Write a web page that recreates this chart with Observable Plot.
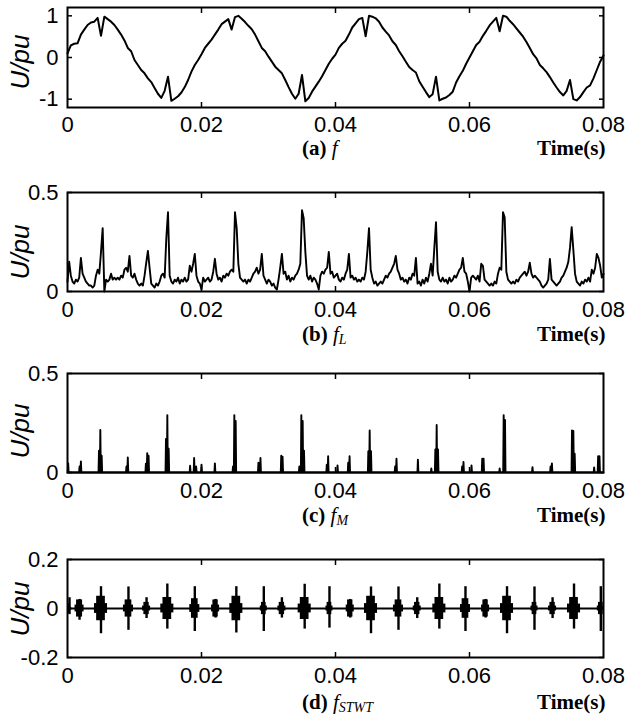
<!DOCTYPE html>
<html><head><meta charset="utf-8">
<script src="https://cdn.jsdelivr.net/npm/d3@7"></script>
<script src="https://cdn.jsdelivr.net/npm/@observablehq/plot@0.6"></script>
<style>
body{margin:0;background:#fff;}
#wrap{position:relative;width:627px;height:718px;overflow:hidden;background:#fff;}
.panel{position:absolute;left:0;}
.ylab{position:absolute;font:italic 26px "Liberation Sans",Arial,sans-serif;transform:translate(-50%,-50%) rotate(-90deg);white-space:nowrap;color:#000;}
.cap{position:absolute;font:bold 21px "Liberation Serif","Times New Roman",serif;line-height:18px;white-space:nowrap;color:#000;}
.cap i{font-weight:normal;}
.cap sub{font-size:14px;line-height:0;vertical-align:-0.2em;font-style:italic;font-weight:normal;}
</style></head>
<body><div id="wrap"></div>
<script>
// ---- tick labels ----
const xTickValues = [0, 0.02, 0.04, 0.06, 0.08];
const xInnerTicks = [0.02, 0.04, 0.06];
const yTicksA = [-1, 0, 1];
const yTicksB = [0, 0.5];
const yTicksC = [0, 0.5];
const yTicksD = [-0.2, 0, 0.2];
const captionLetters = ["(a)", "(b)", "(c)", "(d)"];
const captionSubs = ["", "L", "M", "STWT"];
const yLabel = "U/pu";
const xLabel = "Time(s)";

// ---- (a) f : sampled every 0.5 ms ----
const stepA = 0.0005;
const fA = [
 0.10, 0.29, 0.33, 0.34, 0.55, 0.67, 0.78, 0.84, 0.86, 0.95,
 0.52, 0.98, 0.92, 0.86, 0.78, 0.67, 0.55, 0.41, 0.23, 0.15,
 -0.06, -0.18, -0.30, -0.38, -0.50, -0.59, -0.73, -0.87, -0.97, -0.80,
 -0.46, -1.04, -0.99, -0.93, -0.84, -0.71, -0.54, -0.34, -0.18, -0.06,
 0.08, 0.23, 0.33, 0.43, 0.55, 0.67, 0.80, 0.86, 0.92, 0.67,
 0.97, 1.00, 0.93, 0.85, 0.76, 0.68, 0.55, 0.39, 0.23, 0.15,
 0.02, -0.10, -0.22, -0.30, -0.38, -0.54, -0.71, -0.87, -0.99, -0.87,
 -0.42, -1.05, -0.97, -0.82, -0.70, -0.58, -0.45, -0.30, -0.15, -0.03,
 0.07, 0.23, 0.33, 0.40, 0.55, 0.72, 0.82, 0.92, 0.95, 0.51,
 1.00, 0.98, 0.94, 0.86, 0.72, 0.62, 0.53, 0.39, 0.30, 0.15,
 0.03, -0.10, -0.23, -0.30, -0.36, -0.57, -0.70, -0.83, -0.95, -0.88,
 -0.46, -1.03, -0.99, -0.96, -0.90, -0.82, -0.60, -0.45, -0.32, -0.15,
 0.00, 0.15, 0.30, 0.38, 0.52, 0.64, 0.77, 0.86, 0.95, 0.63,
 1.00, 0.98, 0.88, 0.80, 0.70, 0.60, 0.50, 0.37, 0.23, 0.08,
 -0.02, -0.18, -0.26, -0.35, -0.47, -0.60, -0.72, -0.83, -0.91, -0.80,
 -0.54, -1.00, -1.03, -0.95, -0.83, -0.72, -0.67, -0.50, -0.30, -0.10, 0.05
];

// ---- (b) fL : sampled every 0.25 ms ----
const stepB = 0.00025;
const fL = [
 0.05, 0.15, 0.08, 0.05, 0.04, 0.06, 0.05, 0.07, 0.17, 0.09,
 0.07, 0.05, 0.04, 0.03, 0.03, 0.02, 0.03, 0.08, 0.11, 0.09,
 0.20, 0.32, 0.00, 0.06, 0.05, 0.06, 0.09, 0.06, 0.07, 0.06,
 0.07, 0.06, 0.08, 0.07, 0.11, 0.12, 0.10, 0.18, 0.08, 0.07,
 0.09, 0.06, 0.04, 0.03, 0.04, 0.03, 0.08, 0.145, 0.205, 0.12,
 0.04, 0.03, 0.02, 0.04, 0.03, 0.05, 0.08, 0.09, 0.07, 0.27,
 0.40, 0.08, 0.05, 0.04, 0.06, 0.05, 0.07, 0.04, 0.06, 0.05,
 0.07, 0.05, 0.06, 0.13, 0.10, 0.14, 0.19, 0.08, 0.05, 0.04,
 0.01, 0.07, 0.05, 0.06, 0.07, 0.05, 0.06, 0.10, 0.165, 0.09,
 0.06, 0.07, 0.05, 0.08, 0.07, 0.09, 0.08, 0.10, 0.11, 0.10,
 0.40, 0.32, 0.14, 0.07, 0.06, 0.05, 0.06, 0.04, 0.06, 0.05,
 0.07, 0.09, 0.10, 0.12, 0.09, 0.11, 0.19, 0.08, 0.06, 0.04,
 0.06, 0.05, 0.03, 0.04, 0.02, 0.01, 0.06, 0.12, 0.19, 0.09,
 0.10, 0.06, 0.08, 0.05, 0.07, 0.06, 0.08, 0.09, 0.11, 0.14,
 0.41, 0.37, 0.20, 0.08, 0.06, 0.08, 0.05, 0.07, 0.06, 0.04,
 0.01, 0.08, 0.10, 0.09, 0.11, 0.12, 0.20, 0.09, 0.10, 0.07,
 0.08, 0.09, 0.06, 0.05, 0.07, 0.06, 0.09, 0.11, 0.19, 0.07,
 0.08, 0.06, 0.07, 0.05, 0.06, 0.05, 0.07, 0.06, 0.10, 0.20,
 0.32, 0.11, 0.07, 0.04, 0.05, 0.03, 0.04, 0.05, 0.04, 0.06,
 0.08, 0.07, 0.09, 0.10, 0.12, 0.14, 0.18, 0.11, 0.09, 0.06,
 0.07, 0.05, 0.06, 0.04, 0.07, 0.06, 0.09, 0.08, 0.17, 0.04,
 0.05, 0.03, 0.06, 0.04, 0.07, 0.05, 0.09, 0.14, 0.08, 0.22,
 0.35, 0.10, 0.06, 0.05, 0.07, 0.05, 0.06, 0.04, 0.07, 0.05,
 0.06, 0.08, 0.07, 0.09, 0.11, 0.12, 0.17, 0.10, 0.09, 0.05,
 0.00, 0.07, 0.08, 0.07, 0.06, 0.08, 0.05, 0.14, 0.13, 0.06,
 0.05, 0.04, 0.03, 0.04, 0.03, 0.05, 0.04, 0.09, 0.12, 0.11,
 0.40, 0.375, 0.10, 0.06, 0.05, 0.04, 0.05, 0.04, 0.06, 0.05,
 0.07, 0.08, 0.09, 0.10, 0.08, 0.10, 0.145, 0.09, 0.07, 0.08,
 0.07, 0.06, 0.05, 0.03, 0.02, 0.03, 0.04, 0.06, 0.165, 0.06,
 0.05, 0.04, 0.03, 0.04, 0.05, 0.07, 0.08, 0.10, 0.12, 0.15,
 0.22, 0.325, 0.21, 0.09, 0.05, 0.04, 0.03, 0.05, 0.04, 0.06,
 0.05, 0.07, 0.05, 0.11, 0.09, 0.12, 0.19, 0.17, 0.13, 0.07, 0.09
];

// ---- (c) fM : isolated pulses (time, height) on a zero line ----
const fMTime = [0.0001, 0.0018, 0.0020, 0.0047, 0.0049, 0.0051, 0.0088, 0.0090, 0.0117, 0.0119,
 0.0121, 0.0147, 0.0149, 0.0151, 0.0183, 0.0189, 0.0192, 0.0200, 0.0220, 0.0247,
 0.0249, 0.0251, 0.0285, 0.0288, 0.0319, 0.0321, 0.0346, 0.0349, 0.0351, 0.0353,
 0.0387, 0.0389, 0.0403, 0.0419, 0.0421, 0.0449, 0.0451, 0.0453, 0.0489, 0.0491,
 0.0523, 0.0543, 0.0549, 0.0551, 0.0553, 0.0589, 0.0591, 0.0603, 0.0619, 0.0621,
 0.0645, 0.0651, 0.0653, 0.0694, 0.0721, 0.0723, 0.0753, 0.0755, 0.0757, 0.0786,
 0.0792, 0.0794];
const fMHeight = [0.046, 0.030, 0.056, 0.110, 0.215, 0.085, 0.030, 0.076, 0.045, 0.098,
 0.085, 0.170, 0.290, 0.120, 0.034, 0.073, 0.030, 0.040, 0.046, 0.030,
 0.290, 0.260, 0.050, 0.073, 0.085, 0.080, 0.030, 0.290, 0.260, 0.110,
 0.040, 0.082, 0.036, 0.050, 0.082, 0.107, 0.213, 0.107, 0.030, 0.070,
 0.065, 0.020, 0.116, 0.240, 0.116, 0.030, 0.053, 0.036, 0.070, 0.070,
 0.020, 0.290, 0.265, 0.027, 0.030, 0.046, 0.213, 0.210, 0.095, 0.026,
 0.082, 0.082];

// ---- (d) fSTWT : oscillation bursts ----
const burstTime = [0.0003, 0.0018, 0.0050, 0.0091, 0.0118, 0.0149, 0.0190, 0.0221, 0.0252, 0.0293,
 0.0320, 0.0354, 0.0391, 0.0422, 0.0453, 0.0494, 0.0522, 0.0555, 0.0594, 0.0624,
 0.0656, 0.0697, 0.0724, 0.0756, 0.0796];
const burstMax = [0.044, 0.037, 0.089, 0.088, 0.044, 0.100, 0.089, 0.037, 0.089, 0.089,
 0.044, 0.099, 0.089, 0.037, 0.088, 0.088, 0.044, 0.100, 0.089, 0.037,
 0.089, 0.088, 0.044, 0.100, 0.089];
const burstMin = [-0.025, -0.048, -0.103, -0.089, -0.041, -0.084, -0.094, -0.039, -0.100, -0.094,
 -0.039, -0.084, -0.080, -0.039, -0.103, -0.089, -0.041, -0.084, -0.094, -0.039,
 -0.103, -0.089, -0.041, -0.084, -0.094];
const burstCore = [0.020, 0.035, 0.050, 0.035, 0.025, 0.045, 0.040, 0.035, 0.050, 0.025,
 0.025, 0.045, 0.025, 0.035, 0.050, 0.035, 0.025, 0.045, 0.040, 0.035,
 0.050, 0.025, 0.025, 0.045, 0.025];
const burstDur = [0.0003, 0.0009, 0.0013, 0.0010, 0.0008, 0.0013, 0.0010, 0.0008, 0.0013, 0.0007,
 0.0008, 0.0013, 0.0007, 0.0008, 0.0013, 0.0010, 0.0008, 0.0013, 0.0010, 0.0008,
 0.0013, 0.0007, 0.0008, 0.0013, 0.0007];

// ---- build tables ----
const tableA = fA.map((v, i) => ({t: i * stepA, v}));
const tableB = fL.map((v, i) => ({t: i * stepB, v}));
const halfPulse = 0.00007;
const tableC = [{t: 0, v: 0}];
fMTime.forEach((t, i) => {
  tableC.push({t: Math.max(0, t - halfPulse), v: 0}, {t, v: fMHeight[i]}, {t: t + halfPulse, v: 0});
});
tableC.push({t: 0.08, v: 0});
const tableD = burstTime.map((t, i) => ({t, hi: burstMax[i], lo: burstMin[i], core: burstCore[i], dur: burstDur[i]}));

const fmt = d => String(d);
const FONT = '"Liberation Sans", Arial, sans-serif';
const wrap = document.getElementById("wrap");

function panel({top, frameH, yDomain, yTicks, marks, xPad = 10}) {
  const mt = 7, mb = 33;
  const svg = Plot.plot({
    width: 627, height: mt + frameH + mb,
    marginLeft: 67, marginRight: 24, marginTop: mt, marginBottom: mb,
    x: {domain: [0, 0.08]},
    y: {domain: yDomain},
    style: {fontFamily: FONT, background: "white", color: "black", overflow: "visible"},
    marks: [
      ...marks,
      Plot.frame({stroke: "black", strokeWidth: 2}),
      Plot.axisX(xTickValues, {anchor: "bottom", tickSize: 0, tickPadding: xPad, tickFormat: fmt, fontSize: 22, label: null}),
      Plot.axisX(xInnerTicks, {anchor: "bottom", tickSize: 5, dy: -5, fill: "none", label: null, strokeWidth: 1.5}),
      Plot.axisX(xInnerTicks, {anchor: "top", tickSize: 5, dy: 5, fill: "none", label: null, strokeWidth: 1.5}),
      Plot.axisY(yTicks, {anchor: "left", tickSize: 0, tickPadding: 9, tickFormat: fmt, fontSize: 22, label: null}),
      Plot.axisY(yTicks, {anchor: "left", tickSize: 5, dx: 5, fill: "none", label: null, strokeWidth: 1.5}),
      Plot.axisY(yTicks, {anchor: "right", tickSize: 5, dx: -5, fill: "none", label: null, strokeWidth: 1.5})
    ]
  });
  svg.classList.add("panel");
  svg.style.top = (top - mt) + "px";
  svg.style.position = "absolute";
  wrap.appendChild(svg);
}

panel({top: 7, frameH: 100, yDomain: [-1.2, 1.2], yTicks: yTicksA, xPad: 9,
  marks: [Plot.line(tableA, {x: "t", y: "v", stroke: "black", strokeWidth: 2})]});
panel({top: 192, frameH: 99, yDomain: [0, 0.5], yTicks: yTicksB,
  marks: [Plot.line(tableB, {x: "t", y: "v", stroke: "black", strokeWidth: 1.9})]});
panel({top: 373, frameH: 99, yDomain: [0, 0.5], yTicks: yTicksC,
  marks: [Plot.line(tableC, {x: "t", y: "v", stroke: "black", strokeWidth: 1.9})]});
panel({top: 559, frameH: 98, yDomain: [-0.2, 0.2], yTicks: yTicksD,
  marks: [
    Plot.ruleY([0], {stroke: "black", strokeWidth: 2}),
    Plot.rect(tableD, {x1: d => d.t - d.dur * 0.75, x2: d => d.t + d.dur * 0.75, y1: d => -d.core * 0.4, y2: d => d.core * 0.4, fill: "black"}),
    Plot.rect(tableD, {x1: d => d.t - d.dur / 2, x2: d => d.t + d.dur / 2, y1: d => -d.core, y2: d => d.core, fill: "black"}),
    Plot.ruleX(tableD, {x: "t", y1: "lo", y2: "hi", stroke: "black", strokeWidth: 2.4})
  ]});

// y labels
[62, 252, 431, 609].forEach(cy => {
  const d = document.createElement("div");
  d.className = "ylab";
  d.style.left = "20px";
  d.style.top = cy + "px";
  d.textContent = yLabel;
  wrap.appendChild(d);
});
// captions (line-height 18px: baseline ≈ top + 14.5px)
[153, 339, 520, 707].forEach((base, i) => {
  const c = document.createElement("div");
  c.className = "cap";
  c.style.left = "302px";
  c.style.top = (base - 14.5) + "px";
  c.innerHTML = captionLetters[i] + " <i>f</i>" + (captionSubs[i] ? "<sub>" + captionSubs[i] + "</sub>" : "");
  wrap.appendChild(c);
  const t = document.createElement("div");
  t.className = "cap";
  t.style.left = "537px";
  t.style.top = (base - 14.5) + "px";
  t.textContent = xLabel;
  wrap.appendChild(t);
});
</script>
</body></html>
